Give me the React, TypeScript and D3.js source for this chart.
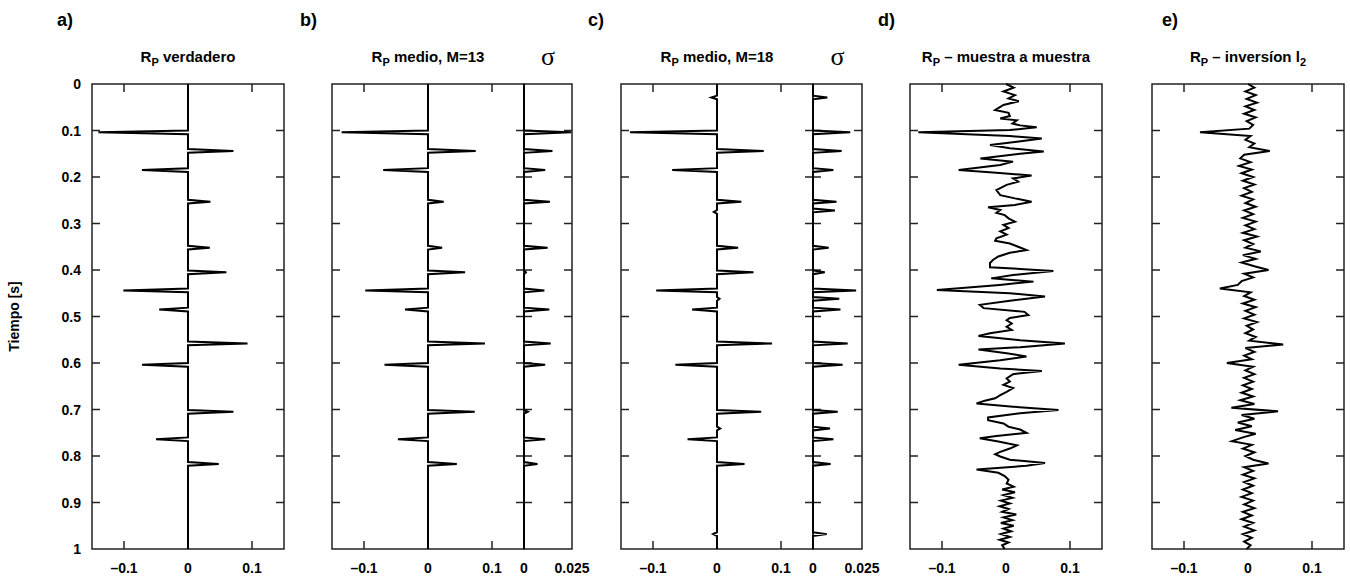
import React from 'react';
import * as d3 from 'd3';

// ---------- data ----------
const timeTicks = [0, 0.1, 0.2, 0.3, 0.4, 0.5, 0.6, 0.7, 0.8, 0.9, 1];
const timeTickLabels = ['0', '0.1', '0.2', '0.3', '0.4', '0.5', '0.6', '0.7', '0.8', '0.9', '1'];
const ampTicks = [-0.1, 0, 0.1];
const ampTickLabels = ['–0.1', '0', '0.1'];
const sigmaTicks = [0, 0.025];
const sigmaTickLabels = ['0', '0.025'];

const panelLetters = ['a)', 'b)', 'c)', 'd)', 'e)'];

// a) true reflectivity & b) mean M=13 (same spike times)
const spikeTimes = [0.104, 0.144, 0.185, 0.253, 0.352, 0.405, 0.444, 0.485, 0.558, 0.604, 0.705, 0.764, 0.817];
const trueAmps = [-0.14, 0.071, -0.072, 0.035, 0.034, 0.06, -0.101, -0.045, 0.093, -0.072, 0.071, -0.05, 0.048];
const meanM13Amps = [-0.135, 0.0745, -0.07, 0.0245, 0.022, 0.058, -0.098, -0.036, 0.089, -0.068, 0.073, -0.047, 0.045];
const sigmaM13Amps = [0.0245, 0.0148, 0.011, 0.0135, 0.0123, 0.001, 0.0106, 0.0132, 0.0139, 0.011, 0.002, 0.011, 0.007];

// c) mean M=18
const meanM18Times = [0.029, 0.104, 0.144, 0.185, 0.253, 0.275, 0.352, 0.405, 0.444, 0.462, 0.485, 0.558, 0.604, 0.705, 0.741, 0.764, 0.817, 0.968];
const meanM18Amps = [-0.009, -0.136, 0.073, -0.07, 0.038, -0.005, 0.033, 0.057, -0.095, 0.004, -0.039, 0.086, -0.065, 0.069, 0.005, -0.046, 0.043, -0.006];
const sigmaM18Times = [0.029, 0.104, 0.144, 0.185, 0.253, 0.272, 0.352, 0.405, 0.444, 0.462, 0.485, 0.558, 0.604, 0.705, 0.741, 0.764, 0.817, 0.968];
const sigmaM18Amps = [0.0073, 0.019, 0.0146, 0.0104, 0.012, 0.0112, 0.008, 0.006, 0.022, 0.0134, 0.014, 0.0177, 0.0151, 0.0126, 0.0087, 0.0104, 0.009, 0.007];

// d) sample-by-sample
const sampleTimes = [
  0.000, 0.008, 0.016, 0.024, 0.031, 0.037, 0.045, 0.056, 0.062, 0.069, 0.074, 0.078, 0.085, 0.089, 0.093, 0.099,
  0.104, 0.112, 0.117, 0.124, 0.131, 0.138, 0.145, 0.150, 0.160, 0.167, 0.174, 0.185, 0.191, 0.197, 0.203, 0.210,
  0.217, 0.228, 0.239, 0.246, 0.253, 0.260, 0.265, 0.271, 0.277, 0.282, 0.289, 0.296, 0.303, 0.310, 0.317, 0.324,
  0.332, 0.337, 0.343, 0.350, 0.357, 0.363, 0.371, 0.378, 0.385, 0.394, 0.402, 0.411, 0.418, 0.425, 0.432, 0.443,
  0.450, 0.457, 0.466, 0.475, 0.482, 0.490, 0.497, 0.503, 0.508, 0.515, 0.522, 0.529, 0.536, 0.542, 0.551, 0.558,
  0.566, 0.571, 0.579, 0.586, 0.594, 0.604, 0.612, 0.617, 0.624, 0.633, 0.640, 0.647, 0.654, 0.662, 0.669, 0.676,
  0.681, 0.687, 0.694, 0.701, 0.708, 0.717, 0.723, 0.730, 0.737, 0.743, 0.750, 0.757, 0.762, 0.769, 0.777, 0.784,
  0.791, 0.796, 0.801, 0.808, 0.815, 0.821, 0.829, 0.836, 0.843, 0.851, 0.859, 0.866, 0.872, 0.878, 0.884, 0.890,
  0.896, 0.902, 0.908, 0.914, 0.920, 0.926, 0.932, 0.938, 0.944, 0.950, 0.956, 0.962, 0.968, 0.974, 0.980, 0.986,
  0.992, 1.000,
];
const sampleAmps = [
  0.000, 0.012, -0.004, 0.014, 0.004, 0.020, -0.004, -0.017, 0.004, 0.006, -0.009, 0.017, 0.010, 0.022, 0.048, 0.006,
  -0.137, 0.006, 0.056, 0.017, -0.025, 0.006, 0.059, 0.022, -0.040, 0.011, -0.009, -0.074, -0.015, 0.040, 0.011, 0.019,
  0.001, -0.015, -0.009, 0.014, 0.040, 0.014, -0.028, -0.009, -0.015, -0.002, 0.004, 0.014, -0.004, 0.004, -0.009, 0.001,
  -0.015, -0.017, 0.006, 0.019, 0.032, 0.006, -0.012, -0.020, -0.025, -0.025, 0.074, 0.011, -0.023, 0.043, -0.010, -0.108,
  0.006, 0.061, 0.006, -0.041, -0.035, 0.029, 0.035, 0.006, 0.001, 0.009, 0.001, 0.009, -0.025, -0.043, 0.022, 0.092,
  0.022, -0.043, 0.001, 0.032, -0.009, -0.074, -0.009, 0.056, 0.011, 0.001, 0.006, -0.004, 0.011, 0.001, -0.009, -0.017,
  -0.033, -0.046, 0.011, 0.082, 0.022, -0.028, -0.028, -0.004, 0.004, 0.022, 0.032, -0.015, -0.041, -0.012, 0.017, 0.006,
  -0.009, -0.017, -0.009, 0.006, 0.061, 0.032, -0.046, -0.012, -0.002, 0.004, 0.001, 0.012, -0.006, 0.014, -0.004, 0.010,
  -0.008, 0.006, -0.010, 0.004, -0.006, 0.016, -0.004, 0.010, -0.008, 0.012, -0.004, 0.008, -0.008, 0.006, -0.010, 0.004,
  -0.006, -0.002,
];

// e) l2 inversion, one value every 0.008 s from 0 to 1
const l2Step = 0.008;
const l2Amps = [
  0.000, 0.010, -0.004, 0.012, -0.002, 0.014, -0.004, 0.010, -0.006, 0.012, -0.002, 0.008, 0.002, -0.075,
  0.004, -0.004, 0.010, 0.002, 0.034, -0.006, -0.012, 0.004, -0.014, 0.006, -0.010, 0.008, -0.008, 0.010,
  -0.006, 0.006, -0.010, 0.008, -0.004, 0.012, -0.006, 0.008, -0.008, 0.012, -0.004, 0.010, -0.008, 0.014,
  -0.006, 0.008, -0.004, 0.020, -0.008, 0.012, -0.010, 0.010, 0.032, -0.006, 0.008, -0.010, -0.016, -0.044,
  0.004, -0.006, 0.010, -0.008, 0.012, -0.004, 0.010, -0.006, 0.014, -0.002, 0.008, -0.004, 0.012, 0.002,
  0.055, -0.004, 0.010, -0.006, 0.006, -0.033, 0.008, -0.004, 0.010, -0.006, 0.008, -0.008, 0.006, -0.010,
  0.008, -0.012, 0.010, -0.026, 0.047, -0.010, 0.010, -0.016, 0.006, -0.020, 0.012, -0.008, -0.025, 0.006,
  -0.008, 0.010, -0.004, 0.008, 0.032, -0.006, 0.008, -0.008, 0.010, -0.006, 0.008, -0.008, 0.006, -0.010,
  0.008, -0.006, 0.010, -0.008, 0.006, -0.010, 0.008, -0.006, 0.010, -0.008, 0.006, -0.006, 0.004, -0.002,
];

// ---------- layout ----------
const W = 1350;
const H = 579;
const TOP = 84;
const BOTTOM = 549;
const FONT = "'Liberation Sans', Arial, Helvetica, sans-serif";
const SPIKE_DT = 0.004;

type Pt = [number, number];

function spikeTrace(times: number[], amps: number[]): Pt[] {
  const pts: Pt[] = [[0, 0]];
  times.forEach((t, i) => {
    pts.push([t - SPIKE_DT, 0]);
    pts.push([t, amps[i]]);
    pts.push([t + SPIKE_DT, 0]);
  });
  pts.push([1, 0]);
  return pts;
}

function pairTrace(times: number[], amps: number[]): Pt[] {
  return times.map((t, i) => [t, amps[i]] as Pt);
}

function stepTrace(step: number, amps: number[]): Pt[] {
  return amps.map((a, i) => [i * step, a] as Pt);
}

const yScale = d3.scaleLinear().domain([0, 1]).range([TOP, BOTTOM]);

interface MainPanel {
  x0: number;
  x1: number;
  title: string;
  sub: string;
  after?: React.ReactNode;
  letterX: number;
  trace: Pt[];
  sigma?: { x1: number; trace: Pt[] };
  yLabels?: boolean;
}

const panels: MainPanel[] = [
  { x0: 92, x1: 284, title: 'R', sub: 'P', after: ' verdadero', letterX: 57, trace: spikeTrace(spikeTimes, trueAmps), yLabels: true },
  { x0: 332, x1: 524, title: 'R', sub: 'P', after: ' medio, M=13', letterX: 300, trace: spikeTrace(spikeTimes, meanM13Amps), sigma: { x1: 572, trace: spikeTrace(spikeTimes, sigmaM13Amps) } },
  { x0: 621, x1: 813, title: 'R', sub: 'P', after: ' medio, M=18', letterX: 588, trace: spikeTrace(meanM18Times, meanM18Amps), sigma: { x1: 862, trace: spikeTrace(sigmaM18Times, sigmaM18Amps) } },
  { x0: 910, x1: 1102, title: 'R', sub: 'P', after: ' – muestra a muestra', letterX: 878, trace: pairTrace(sampleTimes, sampleAmps) },
  { x0: 1152, x1: 1344, title: 'R', sub: 'P', after: 'l2', letterX: 1162, trace: stepTrace(l2Step, l2Amps) },
];

const TICK = 8;
const frameStroke = '#222';

function Panel({ p, idx }: { p: MainPanel; idx: number }) {
  const x = d3.scaleLinear().domain([-0.15, 0.15]).range([p.x0, p.x1]);
  const line = d3.line<Pt>().x((d) => x(d[1])).y((d) => yScale(d[0]));
  const innerTicks = timeTicks.slice(1, -1);
  const cx = (p.x0 + p.x1) / 2;
  let sigmaEl: React.ReactNode = null;
  if (p.sigma) {
    const sx = d3.scaleLinear().domain([0, 0.025]).range([p.x1, p.sigma.x1]);
    const sline = d3.line<Pt>().x((d) => sx(d[1])).y((d) => yScale(d[0]));
    sigmaEl = (
      <g>
        <rect x={p.x1} y={TOP} width={p.sigma.x1 - p.x1} height={BOTTOM - TOP} fill="none" stroke={frameStroke} strokeWidth={1.5} />
        {innerTicks.map((t) => (
          <g key={t}>
            <line x1={p.x1} x2={p.x1 + TICK} y1={yScale(t)} y2={yScale(t)} stroke={frameStroke} strokeWidth={1.5} />
            <line x1={p.sigma!.x1} x2={p.sigma!.x1 - TICK} y1={yScale(t)} y2={yScale(t)} stroke={frameStroke} strokeWidth={1.5} />
          </g>
        ))}
        <path d={sline(p.sigma.trace) || ''} fill="none" stroke="#000" strokeWidth={2} />
        {sigmaTicks.map((v, i) => (
          <text key={v} x={sx(v)} y={573} textAnchor="middle" fontFamily={FONT} fontWeight="bold" fontSize={14}>{sigmaTickLabels[i]}</text>
        ))}
        <text x={(p.x1 + p.sigma.x1) / 2} y={65} textAnchor="middle" fontFamily="'Liberation Serif', 'DejaVu Serif', serif" fontSize={26}>σ</text>
      </g>
    );
  }
  return (
    <g>
      <rect x={p.x0} y={TOP} width={p.x1 - p.x0} height={BOTTOM - TOP} fill="none" stroke={frameStroke} strokeWidth={1.5} />
      {innerTicks.map((t) => (
        <g key={t}>
          <line x1={p.x0} x2={p.x0 + TICK} y1={yScale(t)} y2={yScale(t)} stroke={frameStroke} strokeWidth={1.5} />
          <line x1={p.x1} x2={p.x1 - TICK} y1={yScale(t)} y2={yScale(t)} stroke={frameStroke} strokeWidth={1.5} />
        </g>
      ))}
      {ampTicks.filter((v) => v !== 0).map((v) => (
        <g key={v}>
          <line x1={x(v)} x2={x(v)} y1={TOP} y2={TOP + TICK} stroke={frameStroke} strokeWidth={1.5} />
          <line x1={x(v)} x2={x(v)} y1={BOTTOM} y2={BOTTOM - TICK} stroke={frameStroke} strokeWidth={1.5} />
        </g>
      ))}
      <path d={line(p.trace) || ''} fill="none" stroke="#000" strokeWidth={2} />
      {ampTicks.map((v, i) => (
        <text key={v} x={x(v)} y={573} textAnchor="middle" fontFamily={FONT} fontWeight="bold" fontSize={14}>{ampTickLabels[i]}</text>
      ))}
      {p.yLabels && timeTicks.map((t, i) => (
        <text key={t} x={81} y={yScale(t)} dy="0.36em" textAnchor="end" fontFamily={FONT} fontWeight="bold" fontSize={14}>{timeTickLabels[i]}</text>
      ))}
      {idx < 4 ? (
        <text x={cx} y={62} textAnchor="middle" fontFamily={FONT} fontWeight="bold" fontSize={15}>
          {p.title}
          <tspan fontSize={11} dy={4}>{p.sub}</tspan>
          <tspan dy={-4}>{p.after}</tspan>
        </text>
      ) : (
        <text x={cx} y={62} textAnchor="middle" fontFamily={FONT} fontWeight="bold" fontSize={15}>
          {p.title}
          <tspan fontSize={11} dy={4}>{p.sub}</tspan>
          <tspan dy={-4}>{' – inversíon l'}</tspan>
          <tspan fontSize={11} dy={4}>2</tspan>
        </text>
      )}
      <text x={p.letterX} y={26} fontFamily={FONT} fontWeight="bold" fontSize={18}>{panelLetters[idx]}</text>
      {sigmaEl}
    </g>
  );
}

export default function App() {
  return (
    <svg width={W} height={H} style={{ position: 'absolute', left: 0, top: 0, display: 'block', background: '#fff' }}>
      <rect x={0} y={0} width={W} height={H} fill="#fff" />
      {panels.map((p, i) => (
        <Panel key={i} p={p} idx={i} />
      ))}
      <text transform={`translate(19, ${(TOP + BOTTOM) / 2}) rotate(-90)`} textAnchor="middle" fontFamily={FONT} fontWeight="bold" fontSize={14}>Tiempo [s]</text>
    </svg>
  );
}
